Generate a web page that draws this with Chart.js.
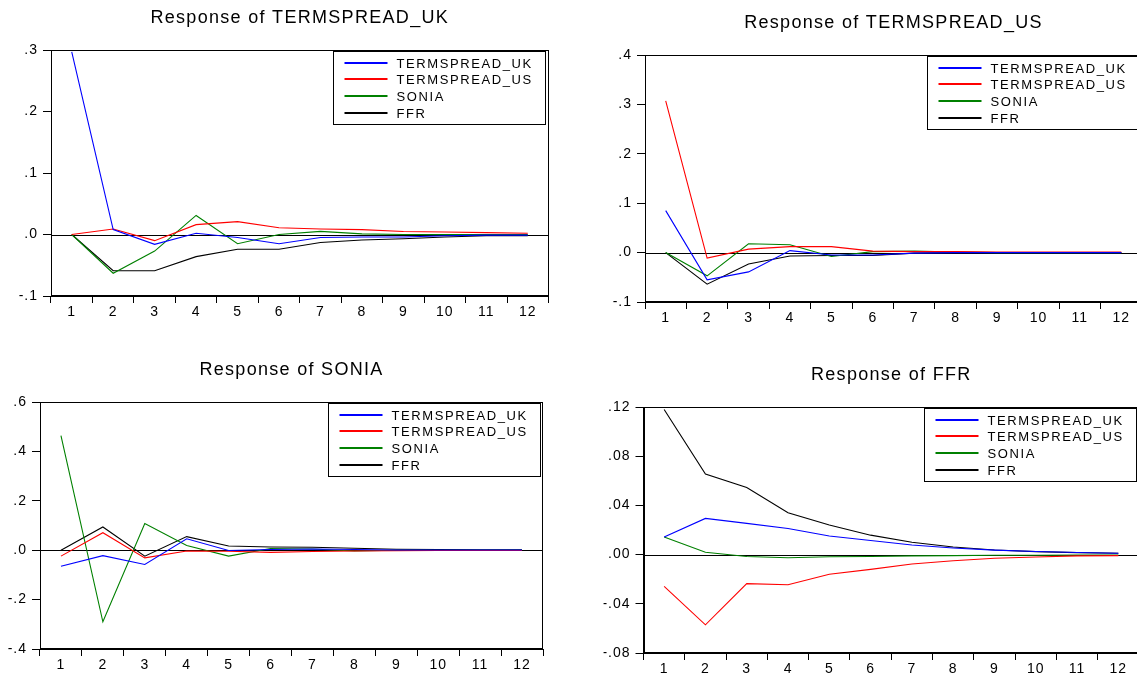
<!DOCTYPE html>
<html>
<head>
<meta charset="utf-8">
<script src="https://cdn.jsdelivr.net/npm/chart.js@4.4.1/dist/chart.umd.min.js"></script>
<style>
  html, body { margin: 0; padding: 0; background: #fff; overflow: hidden; }
  #wrap { position: relative; width: 1137px; height: 678px; overflow: hidden; background: #fff; }
  #wrap canvas { position: absolute; left: 0; top: 0; }
</style>
</head>
<body>
<div id="wrap">
  <canvas id="c1" width="1150" height="678"></canvas>
  <canvas id="c2" width="1150" height="678"></canvas>
  <canvas id="c3" width="1150" height="678"></canvas>
  <canvas id="c4" width="1150" height="678"></canvas>
</div>
<script>
// Impulse responses over 12 periods
const periods = ['1', '2', '3', '4', '5', '6', '7', '8', '9', '10', '11', '12'];
const shockNames = ['TERMSPREAD_UK', 'TERMSPREAD_US', 'SONIA', 'FFR'];

// Response of TERMSPREAD_UK
const ukResp_UK    = [0.297, 0.008, -0.016, 0.002, -0.005, -0.015, -0.005, -0.004, -0.004, -0.002, -0.001, -0.001];
const ukResp_US    = [0.000, 0.009, -0.010, 0.016, 0.021, 0.011, 0.009, 0.008, 0.005, 0.004, 0.003, 0.002];
const ukResp_SONIA = [0.000, -0.063, -0.027, 0.031, -0.015, 0.000, 0.005, 0.001, 0.000, 0.000, 0.000, 0.000];
const ukResp_FFR   = [0.000, -0.059, -0.059, -0.036, -0.024, -0.024, -0.013, -0.009, -0.007, -0.004, -0.002, -0.002];
const ukTicks = [-0.1, 0, 0.1, 0.2, 0.3];

// Response of TERMSPREAD_US
const usResp_UK    = [0.085, -0.055, -0.039, 0.004, -0.005, -0.005, -0.001, 0.000, 0.000, 0.000, 0.000, 0.000];
const usResp_US    = [0.307, -0.011, 0.007, 0.012, 0.012, 0.003, 0.002, 0.002, 0.001, 0.001, 0.001, 0.001];
const usResp_SONIA = [0.000, -0.047, 0.018, 0.016, -0.008, 0.002, 0.003, 0.001, 0.000, 0.000, 0.000, 0.000];
const usResp_FFR   = [0.000, -0.064, -0.023, -0.007, -0.006, -0.006, -0.001, 0.000, 0.000, 0.000, 0.000, 0.000];
const usTicks = [-0.1, 0, 0.1, 0.2, 0.3, 0.4];

// Response of SONIA
const soniaResp_UK    = [-0.065, -0.022, -0.058, 0.046, -0.001, 0.003, 0.005, 0.003, 0.001, 0.001, 0.001, 0.001];
const soniaResp_US    = [-0.024, 0.071, -0.031, -0.003, -0.004, -0.009, -0.005, -0.003, -0.002, -0.001, -0.001, -0.001];
const soniaResp_SONIA = [0.464, -0.290, 0.108, 0.019, -0.024, 0.007, 0.005, -0.003, 0.000, 0.000, 0.000, 0.000];
const soniaResp_FFR   = [0.000, 0.094, -0.024, 0.055, 0.017, 0.013, 0.012, 0.008, 0.004, 0.003, 0.002, 0.002];
const soniaTicks = [-0.4, -0.2, 0, 0.2, 0.4, 0.6];

// Response of FFR
const ffrResp_UK    = [0.0143, 0.0294, 0.0254, 0.0212, 0.0151, 0.0115, 0.0078, 0.0054, 0.0036, 0.0025, 0.0017, 0.0011];
const ffrResp_US    = [-0.0259, -0.0571, -0.0236, -0.0245, -0.0160, -0.0120, -0.0077, -0.0050, -0.0030, -0.0020, -0.0010, -0.0008];
const ffrResp_SONIA = [0.0143, 0.0019, -0.0016, -0.0026, -0.0018, -0.0015, -0.0010, -0.0008, -0.0005, -0.0005, -0.0004, -0.0004];
const ffrResp_FFR   = [0.1180, 0.0655, 0.0545, 0.0340, 0.0240, 0.0158, 0.0100, 0.0062, 0.0038, 0.0024, 0.0016, 0.0011];
const ffrTicks = [-0.08, -0.04, 0, 0.04, 0.08, 0.12];

const lineColors = ['#0000ff', '#ff0000', '#008000', '#000000'];
const FONT = '"Liberation Sans", Arial, sans-serif';

Chart.defaults.font.family = FONT;
Chart.defaults.font.size = 14;
Chart.defaults.color = '#000';

// EViews style ".3" / "-.04" labels
function fmtTick(v, digits) {
  if (Math.abs(v) < 1e-9) v = 0;
  return v.toFixed(digits).replace(/^(-?)0\./, '$1.');
}

// frame, zero line, title and boxed legend inside the plot
const evFrame = {
  id: 'evFrame',
  beforeDraw(chart) {
    // slightly spaced axis labels
    chart.ctx.letterSpacing = '1px';
  },
  beforeDatasetsDraw(chart) {
    const { ctx, chartArea: a, scales } = chart;
    const y0 = Math.round(scales.y.getPixelForValue(0)) + 0.5;
    ctx.save();
    ctx.strokeStyle = '#000';
    ctx.lineWidth = 1;
    ctx.beginPath();
    ctx.moveTo(a.left, y0);
    ctx.lineTo(a.right, y0);
    ctx.stroke();
    ctx.restore();
  },
  afterDraw(chart, args, opts) {
    const { ctx, chartArea: a } = chart;
    ctx.save();
    ctx.strokeStyle = '#000';
    ctx.lineWidth = 1;
    const l = Math.round(a.left) + 0.5, t = Math.round(a.top) + 0.5;
    const r = Math.round(a.right) - 0.5, b = Math.round(a.bottom) - 0.5;
    ctx.strokeRect(l, t, r - l, b - t);

    // title
    ctx.fillStyle = '#000';
    ctx.font = '18px ' + FONT;
    ctx.letterSpacing = '1.3px';
    ctx.textAlign = 'center';
    ctx.textBaseline = 'middle';
    ctx.fillText(opts.title, (a.left + a.right) / 2, a.top - 32);

    // legend
    const bw = 212, bh = 73;
    const bx = Math.round(a.right - 3.5 - bw) + 0.5;
    const by = Math.round(a.top + 1) + 0.5;
    ctx.fillStyle = '#fff';
    ctx.fillRect(bx, by, bw, bh);
    ctx.strokeStyle = '#000';
    ctx.strokeRect(bx, by, bw, bh);
    ctx.font = '13px ' + FONT;
    ctx.letterSpacing = '1.6px';
    ctx.textAlign = 'left';
    chart.data.datasets.forEach((ds, i) => {
      const ry = Math.round(by + 11 + i * 16.8);
      ctx.strokeStyle = ds.borderColor;
      ctx.lineWidth = 2;
      ctx.beginPath();
      ctx.moveTo(bx + 11, ry);
      ctx.lineTo(bx + 54, ry);
      ctx.stroke();
      ctx.fillStyle = '#000';
      ctx.fillText(ds.label, bx + 63, ry + 1);
    });
    ctx.restore();
  }
};

function makePanel(id, title, series, ticks, digits, area) {
  const [L, T, R, B] = area;
  const W = 1150, H = 678, yW = 40, xH = 30;
  return new Chart(document.getElementById(id), {
    type: 'line',
    data: {
      labels: periods,
      datasets: series.map((d, i) => ({
        label: shockNames[i],
        data: d,
        borderColor: lineColors[i],
        borderWidth: 1.1,
        pointRadius: 0,
        tension: 0,
        fill: false
      }))
    },
    options: {
      responsive: false,
      animation: false,
      layout: { padding: { left: L - yW, top: T, right: W - R, bottom: H - B - xH } },
      plugins: {
        legend: { display: false },
        tooltip: { enabled: false },
        evFrame: { title: title }
      },
      scales: {
        x: {
          offset: true,
          grid: { offset: true, drawOnChartArea: false, color: '#000', tickLength: 7 },
          border: { color: '#000' },
          ticks: { padding: 1, maxRotation: 0, autoSkip: false, font: { size: 14 } },
          afterFit: s => { s.height = xH; }
        },
        y: {
          min: ticks[0],
          max: ticks[ticks.length - 1],
          grid: { drawOnChartArea: false, color: '#000', tickLength: 8 },
          border: { color: '#000' },
          ticks: { padding: 5, font: { size: 14 }, callback: v => fmtTick(v, digits) },
          afterBuildTicks: s => { s.ticks = ticks.map(v => ({ value: v })); },
          afterFit: s => { s.width = yW; }
        }
      }
    },
    plugins: [evFrame]
  });
}

makePanel('c1', 'Response of TERMSPREAD_UK',
  [ukResp_UK, ukResp_US, ukResp_SONIA, ukResp_FFR], ukTicks, 1, [51, 50, 548.5, 296]);
makePanel('c2', 'Response of TERMSPREAD_US',
  [usResp_UK, usResp_US, usResp_SONIA, usResp_FFR], usTicks, 1, [645, 55, 1142, 302]);
makePanel('c3', 'Response of SONIA',
  [soniaResp_UK, soniaResp_US, soniaResp_SONIA, soniaResp_FFR], soniaTicks, 1, [40, 402, 543, 649]);
makePanel('c4', 'Response of FFR',
  [ffrResp_UK, ffrResp_US, ffrResp_SONIA, ffrResp_FFR], ffrTicks, 2, [643.5, 407, 1139, 653]);
</script>
</body>
</html>
